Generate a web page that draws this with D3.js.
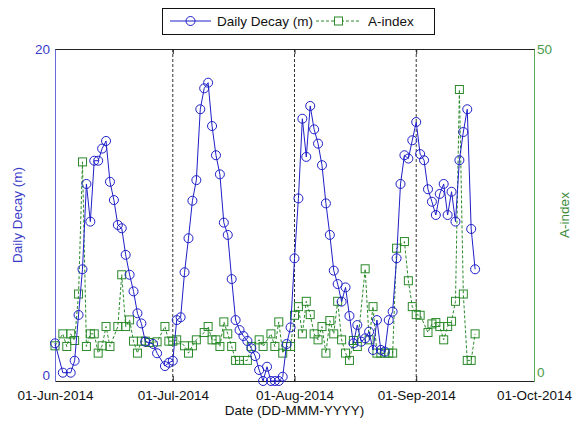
<!DOCTYPE html>
<html>
<head>
<meta charset="utf-8">
<script src="https://cdn.jsdelivr.net/npm/d3@7"></script>
<style>
  body { margin: 0; background: #fff; }
  text { font-family: Arial, "Liberation Sans", sans-serif; }
</style>
</head>
<body>
<div id="chart"></div>
<script>
// days counted from 01-Jun-2014
var decayDays = [0,2,4,5,6,7,8,9,10,11,12,13,14,15,16,17,18,19,20,21,22,23,25,26,28,29,30,
  31,32,33,34,35,36,37,38,39,40,41,42,43,44,45,46,47,48,49,50,51,52,53,54,55,56,57,58,59,60,
  61,62,63,64,65,66,67,68,69,70,71,72,73,74,75,76,77,78,79,80,81,82,83,84,85,86,87,88,89,90,
  91,92,93,94,95,96,97,98,99,100,101,102,103,104,105,106,107];
var decayValues = [2.27,0.5,0.5,1.22,3.98,6.73,11.87,9.6,13.27,13.27,14.0,14.46,12.0,10.9,9.4,9.2,7.6,6.4,5.4,4.08,3.47,2.37,2.23,1.67,0.9,1.1,1.22,
  3.67,3.84,6.55,8.6,10.86,12.1,16.37,17.63,17.97,15.36,13.6,12.45,9.54,8.8,6.14,3.67,3.07,2.71,2.41,1.97,1.5,0.66,0,0.86,0,0,0,0.26,2.23,3.23,
  7.39,11.0,15.8,13.5,16.57,15.16,14.3,13.0,10.7,8.8,6.65,5.84,4.78,5.64,3.92,2.27,3.37,2.37,2.57,2.97,1.87,3.67,1.87,1.77,3.67,4.18,7.39,11.87,13.6,13.4,
  14.5,15.6,13.67,13.3,11.55,10.8,10.0,11.27,11.87,10.0,11.4,9.6,13.3,15.0,16.37,9.16,6.73];

var aDays = [0,2,3,4,5,6,7,8,9,10,11,12,13,14,16,17,18,19,20,21,22,23,24,26,28,29,30,
  31,33,34,35,36,38,39,40,41,42,43,44,45,46,47,49,50,52,53,55,56,57,58,59,60,
  61,62,63,64,65,66,67,68,69,70,71,72,73,74,75,76,77,79,80,81,82,83,84,85,86,87,89,90,
  91,92,93,95,96,97,98,99,100,101,102,103,104,105,106,107];
var aValues = [5.3,7.1,5.2,7.1,6.1,13.1,33.0,5.2,7.1,7.1,4.2,5.3,8.2,5.2,8.2,16.0,8.2,9.2,6.0,4.2,6.0,6.0,5.8,5.9,8.2,6.0,6.0,
  6.2,5.3,4.2,5.3,6.2,7.3,8.2,6.2,6.2,5.2,8.9,7.1,5.2,3.1,3.1,3.1,5.2,6.2,5.2,7.1,5.2,8.9,4.2,5.2,5.2,
  9.9,11.2,7.1,12.0,10.0,7.1,6.2,8.2,4.2,9.1,7.1,12.0,6.2,4.2,3.1,6.1,5.2,16.9,6.2,11.2,4.2,4.2,4.2,4.2,4.2,20.0,21.0,15.1,
  11.2,10.0,9.9,7.3,8.6,8.8,8.2,6.2,8.2,9.0,12.0,43.9,13.1,3.1,3.1,7.1];

var xTickLabels = ["01-Jun-2014","01-Jul-2014","01-Aug-2014","01-Sep-2014","01-Oct-2014"];
var gridMonths = [1,2,3];

(function(){
var W = 586, H = 422;
var pl = 55, pr = 534, pt = 49, pb = 381;
var blue = "#1f1fc8", green = "#2a8a2a";
var font = "Arial, 'Liberation Sans', sans-serif";

var start = new Date(Date.UTC(2014,5,1));
var monthDates = xTickLabels.map(function(d,i){ return d3.utcMonth.offset(start, i); });

var x = d3.scaleUtc().domain([start, d3.utcMonth.offset(start,4)]).range([pl, pr]);
var yL = d3.scaleLinear().domain([0,20]).range([pb, pt]);
var yR = d3.scaleLinear().domain([0,50]).range([pb, pt]);

var svg = d3.select("#chart").append("svg").attr("width", W).attr("height", H);

// dashed month lines
svg.selectAll(".grid").data(gridMonths).enter().append("line")
  .attr("x1", function(d){ return x(monthDates[d]); })
  .attr("x2", function(d){ return x(monthDates[d]); })
  .attr("y1", pt).attr("y2", pb)
  .attr("stroke", "#333").attr("stroke-width", 1).attr("stroke-dasharray", "3,2");

// x axes (bottom + top, ticks inside)
var xb = svg.append("g").attr("transform", "translate(0," + pb + ")")
  .call(d3.axisBottom(x).tickValues(monthDates).tickSizeInner(-5).tickSizeOuter(0).tickPadding(9)
    .tickFormat(function(d,i){ return xTickLabels[i]; }));
xb.select(".domain").attr("stroke", "#222");
xb.selectAll(".tick line").attr("stroke", "#222");
xb.selectAll(".tick text").attr("font-size", 13.5).attr("fill", "#111").attr("font-family", font);

var xt = svg.append("g").attr("transform", "translate(0," + pt + ")")
  .call(d3.axisTop(x).tickValues(monthDates).tickSizeInner(-5).tickSizeOuter(0).tickFormat(""));
xt.select(".domain").attr("stroke", "#222");
xt.selectAll(".tick line").attr("stroke", "#222");

// y axes
var yl = svg.append("g").attr("transform", "translate(" + pl + ",0)")
  .call(d3.axisLeft(yL).tickValues([0,20]).tickSize(0).tickPadding(5));
yl.select(".domain").attr("stroke", "#6a6ad8");
yl.selectAll(".tick text").attr("font-size", 13.5).attr("fill", "#3a3ac8").attr("font-family", font);
yl.selectAll(".tick").filter(function(d){ return d === 0; }).select("text").attr("dy", "-0.1em");

var yr = svg.append("g").attr("transform", "translate(" + pr + ",0)")
  .call(d3.axisRight(yR).tickValues([0,50]).tickSize(0).tickPadding(3));
yr.select(".domain").attr("stroke", "#5aa85a");
yr.selectAll(".tick text").attr("font-size", 13.5).attr("fill", "#4a9a4a").attr("font-family", font);
yr.selectAll(".tick").filter(function(d){ return d === 0; }).select("text").attr("dy", "-0.3em");

// A-index series
var aData = aDays.map(function(d,i){ return {date: d3.utcDay.offset(start, d), v: aValues[i]}; });
svg.append("path").datum(aData)
  .attr("fill", "none").attr("stroke", green).attr("stroke-width", 1).attr("stroke-dasharray", "3,2")
  .attr("d", d3.line().x(function(d){ return x(d.date); }).y(function(d){ return yR(d.v); }));
svg.selectAll(".sq").data(aData).enter().append("rect")
  .attr("x", function(d){ return x(d.date) - 4; })
  .attr("y", function(d){ return yR(d.v) - 4; })
  .attr("width", 8).attr("height", 8)
  .attr("fill", "none").attr("stroke", green).attr("stroke-width", 1);

// Daily decay series
var dData = decayDays.map(function(d,i){ return {date: d3.utcDay.offset(start, d), v: decayValues[i]}; });
svg.append("path").datum(dData)
  .attr("fill", "none").attr("stroke", blue).attr("stroke-width", 1)
  .attr("d", d3.line().x(function(d){ return x(d.date); }).y(function(d){ return yL(d.v); }));
svg.selectAll(".circ").data(dData).enter().append("circle")
  .attr("cx", function(d){ return x(d.date); })
  .attr("cy", function(d){ return yL(d.v); })
  .attr("r", 4.5)
  .attr("fill", "none").attr("stroke", blue).attr("stroke-width", 1);

// axis titles
svg.append("text").attr("x", (pl + pr) / 2).attr("y", 415)
  .attr("text-anchor", "middle").attr("font-size", 13.5).attr("fill", "#111")
  .text("Date (DD-MMM-YYYY)");
svg.append("text").attr("transform", "translate(22," + ((pt + pb) / 2) + ") rotate(-90)")
  .attr("text-anchor", "middle").attr("font-size", 13.5).attr("fill", "#3a3ac8")
  .text("Daily Decay (m)");
svg.append("text").attr("transform", "translate(569," + ((pt + pb) / 2) + ") rotate(-90)")
  .attr("text-anchor", "middle").attr("font-size", 13.5).attr("fill", "#3a8a3a")
  .text("A-index");

// legend
var lg = svg.append("g");
lg.append("rect").attr("x", 162.5).attr("y", 8.5).attr("width", 272).attr("height", 26)
  .attr("fill", "#fff").attr("stroke", "#111").attr("stroke-width", 1);
lg.append("line").attr("x1", 170).attr("x2", 211).attr("y1", 21).attr("y2", 21)
  .attr("stroke", blue).attr("stroke-width", 1);
lg.append("circle").attr("cx", 190.5).attr("cy", 21).attr("r", 4.5)
  .attr("fill", "none").attr("stroke", blue);
lg.append("text").attr("x", 217).attr("y", 26).attr("font-size", 13.5).attr("fill", "#111")
  .text("Daily Decay (m)");
lg.append("line").attr("x1", 316).attr("x2", 361).attr("y1", 21).attr("y2", 21)
  .attr("stroke", green).attr("stroke-width", 1).attr("stroke-dasharray", "3,2");
lg.append("rect").attr("x", 334.5).attr("y", 17).attr("width", 8).attr("height", 8)
  .attr("fill", "#fff").attr("stroke", green);
lg.append("text").attr("x", 368).attr("y", 26).attr("font-size", 13.5).attr("fill", "#111")
  .text("A-index");
})();
</script>
</body>
</html>
